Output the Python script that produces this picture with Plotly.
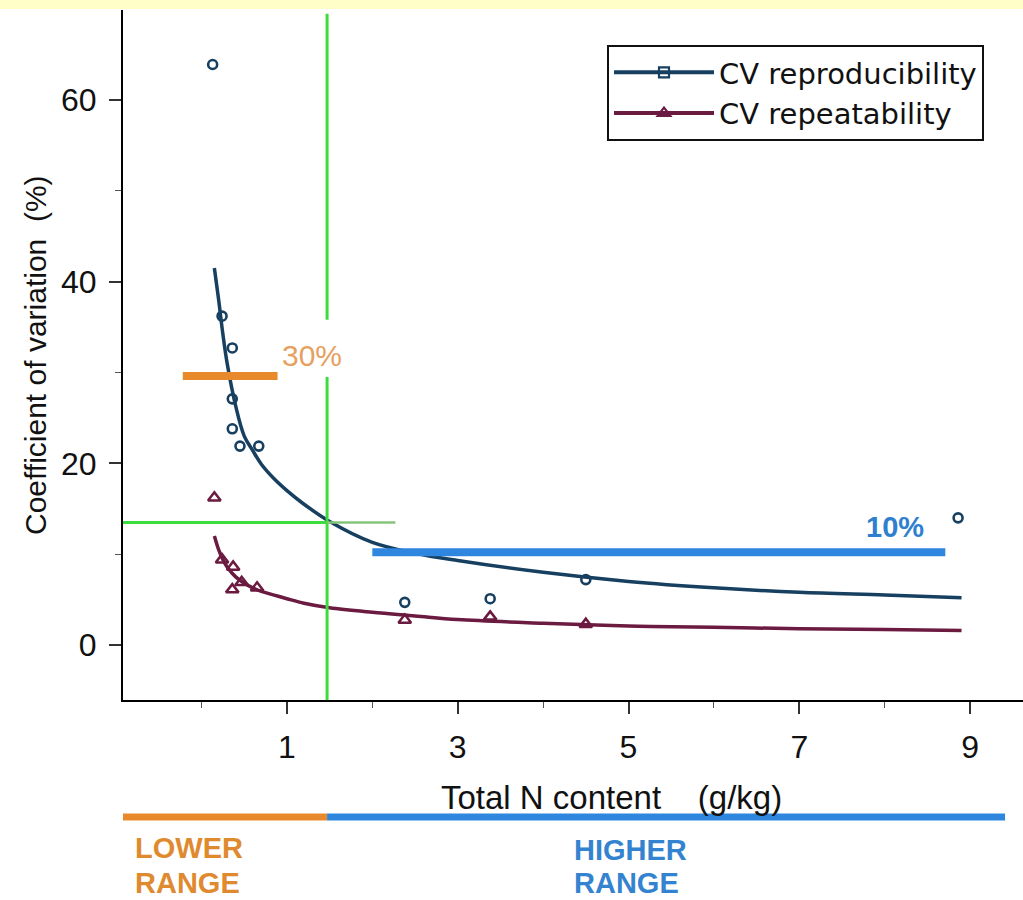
import plotly.graph_objects as go

# ---- data ----
repro_pts_x = [0.13, 0.24, 0.36, 0.36, 0.36, 0.45, 0.67, 2.38, 3.38, 4.50, 8.86]
repro_pts_y = [63.9, 36.2, 32.7, 27.1, 23.8, 21.9, 21.9, 4.7, 5.1, 7.2, 14.0]

repeat_pts_x = [0.15, 0.24, 0.37, 0.36, 0.47, 0.65, 2.38, 3.38, 4.50]
repeat_pts_y = [16.2, 9.4, 8.6, 6.1, 6.9, 6.3, 2.75, 3.1, 2.3]

fit_x = [0.15, 0.2, 0.25, 0.3, 0.4, 0.5, 0.6, 0.7, 0.85, 1.0, 1.2, 1.5, 2.0, 2.5, 3.0, 4.0, 5.0, 6.0, 7.0, 8.0, 8.9]
repro_fit_y = [41.5, 38.0, 34.2, 31.0, 26.3, 23.0, 21.4, 19.9, 18.3, 17.0, 15.5, 13.6, 11.3, 10.1, 9.3, 8.0, 7.0, 6.3, 5.8, 5.5, 5.2]
repeat_fit_y = [12.0, 10.5, 9.4, 8.6, 7.5, 6.8, 6.3, 5.9, 5.5, 5.1, 4.6, 4.1, 3.6, 3.2, 2.8, 2.4, 2.1, 1.95, 1.8, 1.7, 1.6]

series_names = ["CV reproducibility", "CV repeatability"]
x_tick_vals = [1, 3, 5, 7, 9]
y_tick_vals = [0, 20, 40, 60]

threshold_x = 1.47          # split between lower / higher range
threshold_y = 13.5          # crossing CV
limit_low = 29.6            # 30% limit (lower range)
limit_high = 10.2           # 10% limit (higher range)
limit_low_span = [-0.22, 0.89]
limit_high_span = [2.0, 8.71]

X_RANGE = [-0.92, 9.62]
Y_RANGE = [-6.05, 69.9]

NAVY = "#173F60"
MAROON = "#6B1A40"
GREEN = "#3BDC3B"
ORANGE = "#E8892B"
BLUE = "#2E86DE"
FONT = "Liberation Sans, Arial, sans-serif"

fig = go.Figure()

# fitted curves
fig.add_trace(go.Scatter(x=fit_x, y=repro_fit_y, mode="lines",
                         line=dict(color=NAVY, width=3.5, shape="spline", smoothing=1.0),
                         showlegend=False, hoverinfo="skip"))
fig.add_trace(go.Scatter(x=fit_x, y=repeat_fit_y, mode="lines",
                         line=dict(color=MAROON, width=3.5, shape="spline", smoothing=1.0),
                         showlegend=False, hoverinfo="skip"))
# observed points
fig.add_trace(go.Scatter(x=repro_pts_x, y=repro_pts_y, mode="markers",
                         marker=dict(symbol="circle-open", size=9, color=NAVY, line=dict(width=2.6, color=NAVY)),
                         showlegend=False))
fig.add_trace(go.Scatter(x=repeat_pts_x, y=repeat_pts_y, mode="markers",
                         marker=dict(symbol="triangle-up-open", size=11, color=MAROON, line=dict(width=2.5, color=MAROON)),
                         showlegend=False))
# legend entries
fig.add_trace(go.Scatter(x=[None], y=[None], mode="lines+markers", name=series_names[0],
                         line=dict(color=NAVY, width=4),
                         marker=dict(symbol="square-open", size=10, color=NAVY, line=dict(width=2.2, color=NAVY))))
fig.add_trace(go.Scatter(x=[None], y=[None], mode="lines+markers", name=series_names[1],
                         line=dict(color=MAROON, width=4),
                         marker=dict(symbol="triangle-up-open", size=11, color=MAROON, line=dict(width=2.2, color=MAROON))))

shapes = []
# top yellow band
shapes.append(dict(type="rect", xref="paper", yref="paper", x0=-0.14, x1=1.01, y0=1.0014, y1=1.03,
                   fillcolor="#FFFDC8", line=dict(width=0), layer="above"))
# green guide lines
shapes.append(dict(type="line", xref="x", yref="y", x0=threshold_x, x1=threshold_x, y0=Y_RANGE[0], y1=29.5,
                   line=dict(color=GREEN, width=3)))
shapes.append(dict(type="line", xref="x", yref="y", x0=threshold_x, x1=threshold_x, y0=35.8, y1=69.5,
                   line=dict(color=GREEN, width=3)))
shapes.append(dict(type="line", xref="x", yref="y", x0=X_RANGE[0], x1=threshold_x, y0=threshold_y, y1=threshold_y,
                   line=dict(color=GREEN, width=3)))
shapes.append(dict(type="line", xref="x", yref="y", x0=threshold_x, x1=2.27, y0=threshold_y, y1=threshold_y,
                   line=dict(color="#86C47A", width=2.5)))
# limit bars
shapes.append(dict(type="line", xref="x", yref="y", x0=limit_low_span[0], x1=limit_low_span[1], y0=limit_low, y1=limit_low,
                   line=dict(color=ORANGE, width=8)))
shapes.append(dict(type="line", xref="x", yref="y", x0=limit_high_span[0], x1=limit_high_span[1], y0=limit_high, y1=limit_high,
                   line=dict(color=BLUE, width=8)))
# range bars below the axis
shapes.append(dict(type="line", xref="x", yref="paper", x0=X_RANGE[0], x1=threshold_x, y0=-0.1696, y1=-0.1696,
                   line=dict(color=ORANGE, width=7)))
shapes.append(dict(type="line", xref="x", yref="paper", x0=threshold_x, x1=9.41, y0=-0.1696, y1=-0.1696,
                   line=dict(color=BLUE, width=7)))


def py(p):
    """pixel row -> paper y"""
    return (700 - p) / 690


annotations = [
    dict(x=1.29, y=31.9, xref="x", yref="y", text="30%", showarrow=False,
         font=dict(family=FONT, size=30, color="#E6A060")),
    dict(x=8.12, y=13.0, xref="x", yref="y", text="<b>10%</b>", showarrow=False,
         font=dict(family=FONT, size=29, color="#2F7FD0")),
    dict(x=-0.80, y=py(848), xref="x", yref="paper", text="<b>LOWER</b>", showarrow=False,
         xanchor="left", yanchor="middle", font=dict(family=FONT, size=29, color="#E08A30")),
    dict(x=-0.80, y=py(883), xref="x", yref="paper", text="<b>RANGE</b>", showarrow=False,
         xanchor="left", yanchor="middle", font=dict(family=FONT, size=29, color="#E08A30")),
    dict(x=4.34, y=py(850), xref="x", yref="paper", text="<b>HIGHER</b>", showarrow=False,
         xanchor="left", yanchor="middle", font=dict(family=FONT, size=29, color="#3483D0")),
    dict(x=4.34, y=py(883), xref="x", yref="paper", text="<b>RANGE</b>", showarrow=False,
         xanchor="left", yanchor="middle", font=dict(family=FONT, size=29, color="#3483D0")),
    dict(x=(611 - 123) / 900, y=py(797), xref="paper", yref="paper",
         text="Total N content    (g/kg)", showarrow=False, xanchor="center", yanchor="middle",
         font=dict(family=FONT, size=33, color="#111")),
    dict(x=(35 - 123) / 900, y=py(355), xref="paper", yref="paper",
         text="Coefficient of variation  (%)", showarrow=False, textangle=-90,
         xanchor="center", yanchor="middle",
         font=dict(family=FONT, size=30, color="#111")),
]

fig.update_layout(
    width=1023, height=900,
    margin=dict(l=123, r=0, t=10, b=200),
    paper_bgcolor="white", plot_bgcolor="white",
    shapes=shapes, annotations=annotations,
    showlegend=True,
    legend=dict(x=(607 - 123) / 900, y=py(45), xanchor="left", yanchor="top",
                bordercolor="#111", borderwidth=2, bgcolor="white",
                font=dict(family="DejaVu Sans, sans-serif", size=29, color="#111"),
                itemwidth=100, tracegroupgap=0),
    xaxis=dict(range=X_RANGE, tickvals=x_tick_vals, showgrid=False, zeroline=False,
               showline=True, linecolor="black", linewidth=2,
               ticks="outside", ticklen=12, tickwidth=1.5, tickcolor="#333",
               minor=dict(dtick=1, tick0=0, ticks="outside", ticklen=6, tickwidth=1.2, tickcolor="#555"),
               tickfont=dict(family=FONT, size=32, color="#111"), ticklabelstandoff=6),
    yaxis=dict(range=Y_RANGE, tickvals=y_tick_vals, showgrid=False, zeroline=False,
               showline=True, linecolor="black", linewidth=2,
               ticks="outside", ticklen=12, tickwidth=1.5, tickcolor="#333",
               minor=dict(dtick=10, tick0=0, ticks="outside", ticklen=6, tickwidth=1.2, tickcolor="#555"),
               tickfont=dict(family=FONT, size=32, color="#111"), ticklabelstandoff=6),
)

fig.write_html("out.html")
